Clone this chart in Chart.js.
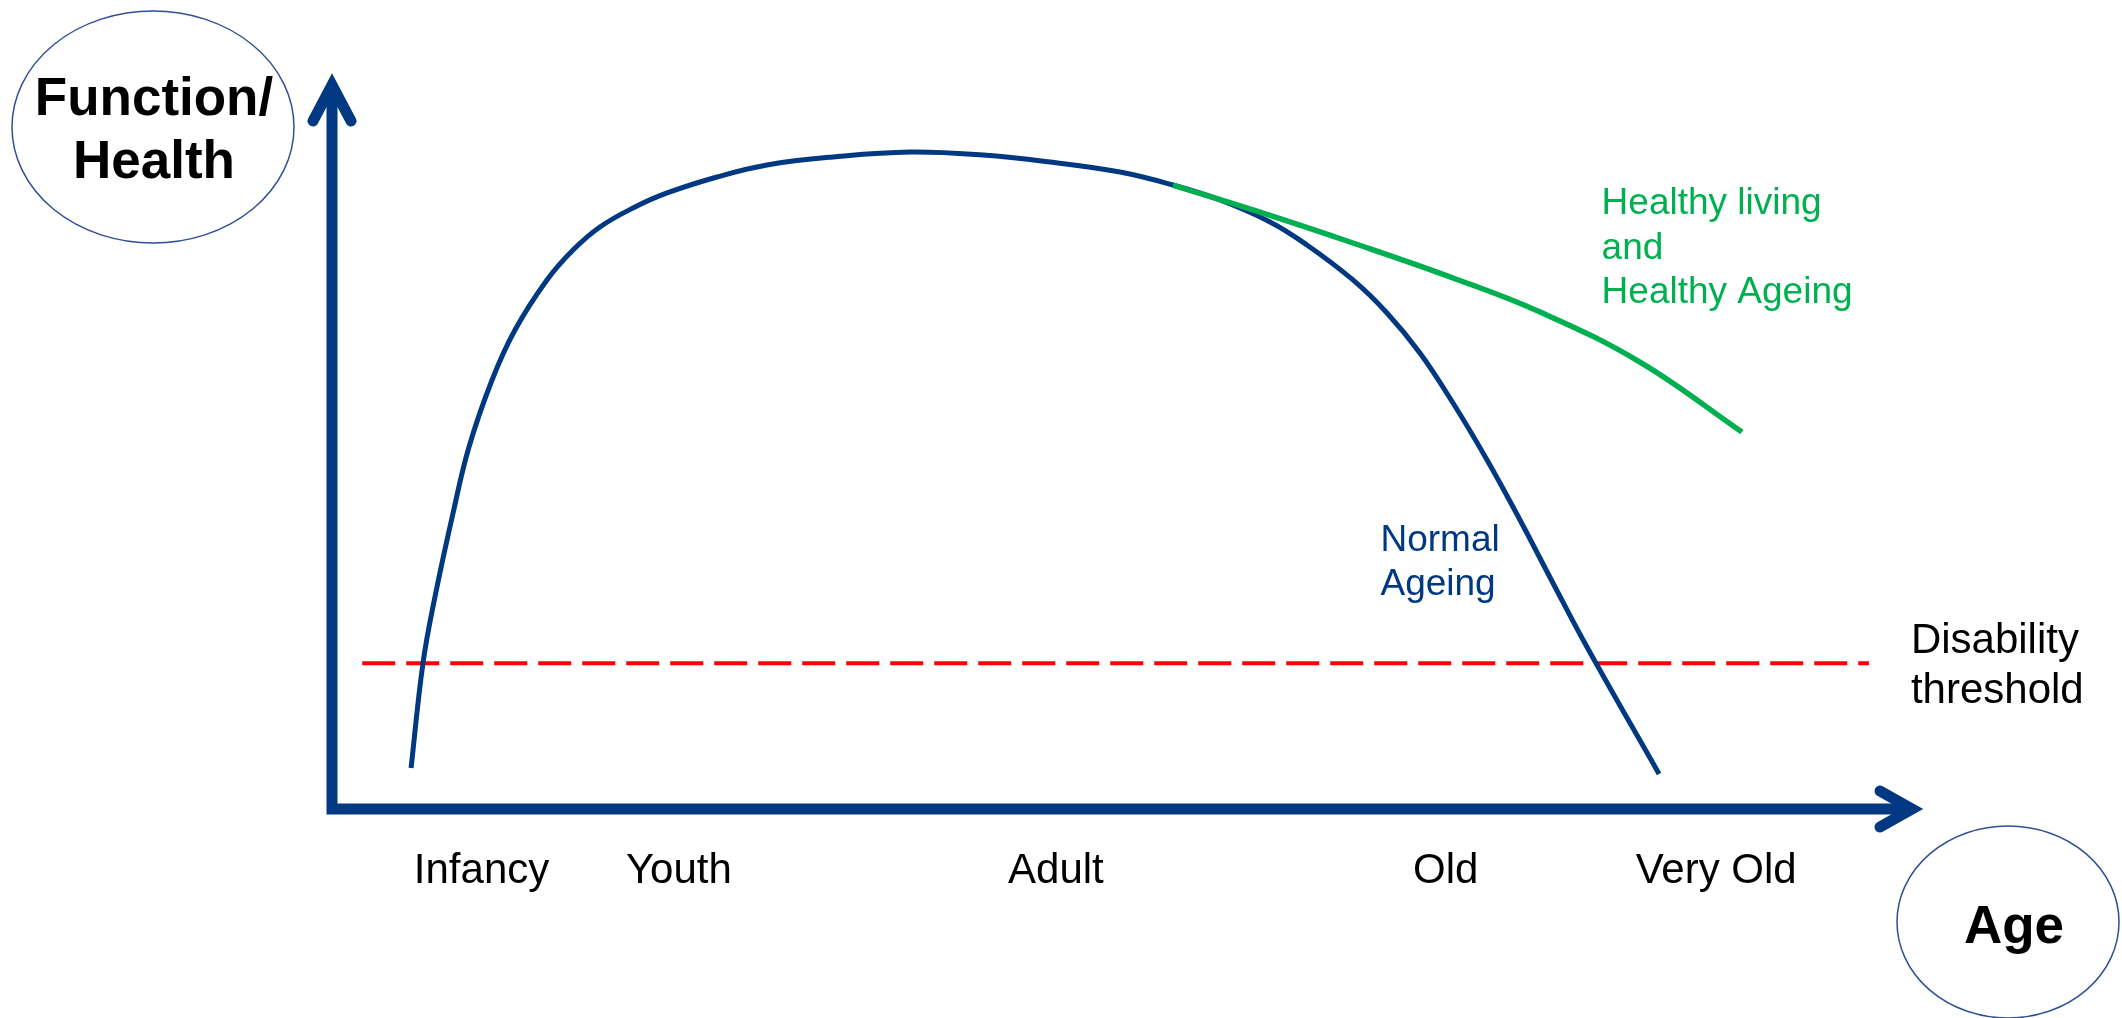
<!DOCTYPE html>
<html>
<head>
<meta charset="utf-8">
<script src="https://cdn.jsdelivr.net/npm/chart.js@4/dist/chart.umd.min.js"></script>
<style>
  html, body { margin: 0; padding: 0; background: #fff; }
  #wrap { width: 2122px; height: 1018px; }
</style>
</head>
<body>
<div id="wrap"><canvas id="chart" width="2122" height="1018"></canvas></div>
<script>
// ---------- Data (x = age, y = function/health, both 0-100) ----------
const normalAgeX = [4.97, 5.72, 6.47, 7.61, 8.61, 10.06, 11.50, 13.51, 15.15, 16.84, 18.92, 21.06, 24.20, 27.34, 31.49, 36.33, 40.92, 45.13, 49.53, 52.86, 55.81, 58.96, 61.28, 64.17, 66.31, 68.38, 70.46, 72.60, 74.67, 76.74, 78.88, 83.41];
const normalAgeY = [5.57, 19.84, 28.80, 40.22, 49.18, 58.29, 65.08, 71.88, 75.95, 79.08, 81.66, 83.70, 85.87, 87.50, 88.59, 89.27, 88.86, 87.91, 86.55, 84.78, 82.74, 79.76, 76.63, 71.88, 67.39, 61.96, 55.16, 47.42, 39.27, 30.71, 22.01, 4.76];

const healthyAgeX = [52.86, 57.89, 64.17, 70.46, 75.93, 82.21, 88.62];
const healthyAgeY = [84.78, 81.39, 76.90, 72.15, 67.53, 60.73, 51.22];

const thresholdX = [1.9, 96.6];
const thresholdY = [19.8, 19.8];

const stageLabels = ["Infancy", "Youth", "Adult", "Old", "Very Old"];
const stageAges = [9.4, 21.8, 45.5, 70.0, 87.0];

const toPoints = (xs, ys) => xs.map((x, i) => ({ x, y: ys[i] }));

// ---------- Colours / fonts ----------
const NAVY = '#003882';
const GREEN = '#00b050';
const RED = '#ff0000';
const FONT = '"Liberation Sans", Arial, sans-serif';

// ---------- Axes arrows, labels, bubbles ----------
const decorPlugin = {
    id: 'decor',
    beforeDatasetsDraw(chart) {
        const { ctx, chartArea: a } = chart;
        ctx.save();
        ctx.strokeStyle = NAVY;
        ctx.lineWidth = 11;

        // stems
        ctx.lineCap = 'butt';
        ctx.beginPath();
        ctx.moveTo(a.left, a.bottom + 5.5);
        ctx.lineTo(a.left, a.top + 16);
        ctx.moveTo(a.left - 5.5, a.bottom);
        ctx.lineTo(a.right - 16, a.bottom);
        ctx.stroke();

        // arrow heads
        ctx.lineCap = 'round';
        ctx.lineJoin = 'miter';
        ctx.miterLimit = 10;
        ctx.beginPath();
        ctx.moveTo(a.left - 19, a.top + 48);
        ctx.lineTo(a.left, a.top + 12);
        ctx.lineTo(a.left + 19, a.top + 48);
        ctx.stroke();
        ctx.beginPath();
        ctx.moveTo(a.right - 43, a.bottom - 18);
        ctx.lineTo(a.right - 11, a.bottom);
        ctx.lineTo(a.right - 43, a.bottom + 18);
        ctx.stroke();
        ctx.restore();
    },
    afterDraw(chart) {
        const { ctx, chartArea: a, scales: { x, y } } = chart;
        ctx.save();

        // stage labels along the age axis
        ctx.fillStyle = '#000';
        ctx.font = '42px ' + FONT;
        ctx.textAlign = 'center';
        ctx.textBaseline = 'alphabetic';
        stageLabels.forEach((lab, i) => {
            ctx.fillText(lab, x.getPixelForValue(stageAges[i]), a.bottom + 74);
        });

        // threshold label
        ctx.textAlign = 'left';
        const ty = y.getPixelForValue(thresholdY[0]);
        ctx.fillText('Disability', x.getPixelForValue(thresholdX[1]) + 42, ty - 10);
        ctx.fillText('threshold', x.getPixelForValue(thresholdX[1]) + 42, ty + 40);

        // curve labels
        ctx.font = '37px ' + FONT;
        ctx.fillStyle = GREEN;
        const hx = x.getPixelForValue(79.8);
        const hy = y.getPixelForValue(80.8);
        ctx.fillText('Healthy living', hx, hy);
        ctx.fillText('and', hx, hy + 45);
        ctx.fillText('Healthy Ageing', hx, hy + 89);

        ctx.fillStyle = NAVY;
        const nx = x.getPixelForValue(65.9);
        const ny = y.getPixelForValue(35.0);
        ctx.fillText('Normal', nx, ny);
        ctx.fillText('Ageing', nx, ny + 44);

        // axis title bubbles
        ctx.strokeStyle = '#2f4f96';
        ctx.lineWidth = 1.5;
        ctx.beginPath();
        ctx.ellipse(153, 127, 141, 116, 0, 0, Math.PI * 2);
        ctx.stroke();
        ctx.beginPath();
        ctx.ellipse(2008, 922, 111, 96, 0, 0, Math.PI * 2);
        ctx.stroke();

        ctx.fillStyle = '#000';
        ctx.font = 'bold 53px ' + FONT;
        ctx.textAlign = 'center';
        ctx.fillText('Function/', 154, 115);
        ctx.fillText('Health', 154, 178);
        ctx.fillText('Age', 2014, 943);
        ctx.restore();
    }
};

new Chart(document.getElementById('chart'), {
    type: 'line',
    data: {
        datasets: [
            {
                label: 'Normal Ageing',
                data: toPoints(normalAgeX, normalAgeY),
                borderColor: NAVY,
                borderWidth: 5,
                tension: 0.4,
                pointRadius: 0,
                order: 1
            },
            {
                label: 'Healthy living and Healthy Ageing',
                data: toPoints(healthyAgeX, healthyAgeY),
                borderColor: GREEN,
                borderWidth: 5.5,
                tension: 0.4,
                pointRadius: 0,
                order: 0
            },
            {
                label: 'Disability threshold',
                data: toPoints(thresholdX, thresholdY),
                borderColor: RED,
                borderWidth: 4,
                borderDash: [33, 11],
                pointRadius: 0,
                order: 2
            }
        ]
    },
    options: {
        responsive: false,
        animation: false,
        events: [],
        layout: { padding: { left: 332, right: 199, top: 73, bottom: 209 } },
        scales: {
            x: { type: 'linear', min: 0, max: 100, display: false },
            y: { type: 'linear', min: 0, max: 100, display: false }
        },
        plugins: { legend: { display: false }, tooltip: { enabled: false } }
    },
    plugins: [decorPlugin]
});
</script>
</body>
</html>
